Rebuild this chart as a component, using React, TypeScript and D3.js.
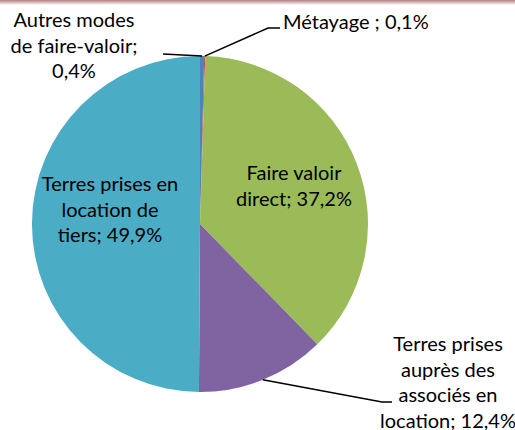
import React from 'react';
import * as d3 from 'd3';

// valeurs (ordre Excel, depuis midi, sens horaire)
const categories = [
  'Autres modes de faire-valoir',
  'Métayage',
  'Faire valoir direct',
  'Terres prises auprès des associés en location',
  'Terres prises en location de tiers',
];
const shares = [0.4, 0.1, 37.2, 12.4, 49.9];
const colors = ['#4F81BD', '#C0504D', '#9BBB59', '#8064A2', '#4BACC6'];

// texte des étiquettes, ligne par ligne
const labelLines = [
  ['Autres modes', 'de faire-valoir;', '0,4%'],
  ['Métayage ; 0,1%'],
  ['Faire valoir', 'direct; 37,2%'],
  ['Terres prises', 'auprès des', 'associés en', 'location; 12,4%'],
  ['Terres prises en', 'location de', 'tiers; 49,9%'],
];

const width = 515;
const height = 430;
const cx = 200;
const cy = 224;
const radius = 168;
const lineH = 25.5;

// placement des étiquettes: x centre, y première ligne, ancre, point de coude
const labelLayout = [
  { x: 74, y: 27, anchor: 'middle', elbow: [163, 54], end: null },
  { x: 283, y: 29, anchor: 'start', elbow: [268, 28], end: [280, 28] },
  { x: 294, y: 180, anchor: 'middle', elbow: null, end: null },
  { x: 448, y: 351, anchor: 'middle', elbow: [382, 402], end: [392, 402] },
  { x: 110, y: 191, anchor: 'middle', elbow: null, end: null },
];

export default function App() {
  const pie = d3.pie<number>().sort(null).value((d) => d)(shares);
  const arc = d3.arc<d3.PieArcDatum<number>>().innerRadius(0).outerRadius(radius);

  return (
    <svg width={width} height={height} style={{ position: 'absolute', left: 0, top: 0 }}>
      <defs>
        <linearGradient id="topbar" x1="0" y1="0" x2="0" y2="1">
          <stop offset="0" stopColor="#b07c7c" />
          <stop offset="1" stopColor="#ffffff" />
        </linearGradient>
      </defs>
      <rect x={0} y={0} width={width} height={height} fill="#fff" />
      <rect x={0} y={0} width={width} height={5} fill="url(#topbar)" />
      <g transform={`translate(${cx},${cy})`}>
        {pie.map((p, i) => (
          <path key={categories[i]} d={arc(p) || ''} fill={colors[i]} />
        ))}
      </g>
      {pie.map((p, i) => {
        const lay = labelLayout[i];
        if (!lay.elbow) return null;
        const mid = (p.startAngle + p.endAngle) / 2;
        const sx = cx + radius * Math.sin(mid);
        const sy = cy - radius * Math.cos(mid);
        const pts: [number, number][] = [[sx, sy], lay.elbow as [number, number]];
        if (lay.end) pts.push(lay.end as [number, number]);
        return (
          <path
            key={'l' + i}
            d={d3.line()(pts) || ''}
            fill="none"
            stroke="#000"
            strokeWidth={1.5}
          />
        );
      })}
      {labelLines.map((lines, i) => {
        const lay = labelLayout[i];
        return (
          <text
            key={'t' + i}
            x={lay.x}
            y={lay.y}
            textAnchor={lay.anchor}
            fontFamily="Lato, 'Open Sans', sans-serif"
            fontSize={20}
            fill="#000"
          >
            {lines.map((ln, j) => (
              <tspan key={j} x={lay.x} y={lay.y + j * lineH}>
                {ln}
              </tspan>
            ))}
          </text>
        );
      })}
    </svg>
  );
}
